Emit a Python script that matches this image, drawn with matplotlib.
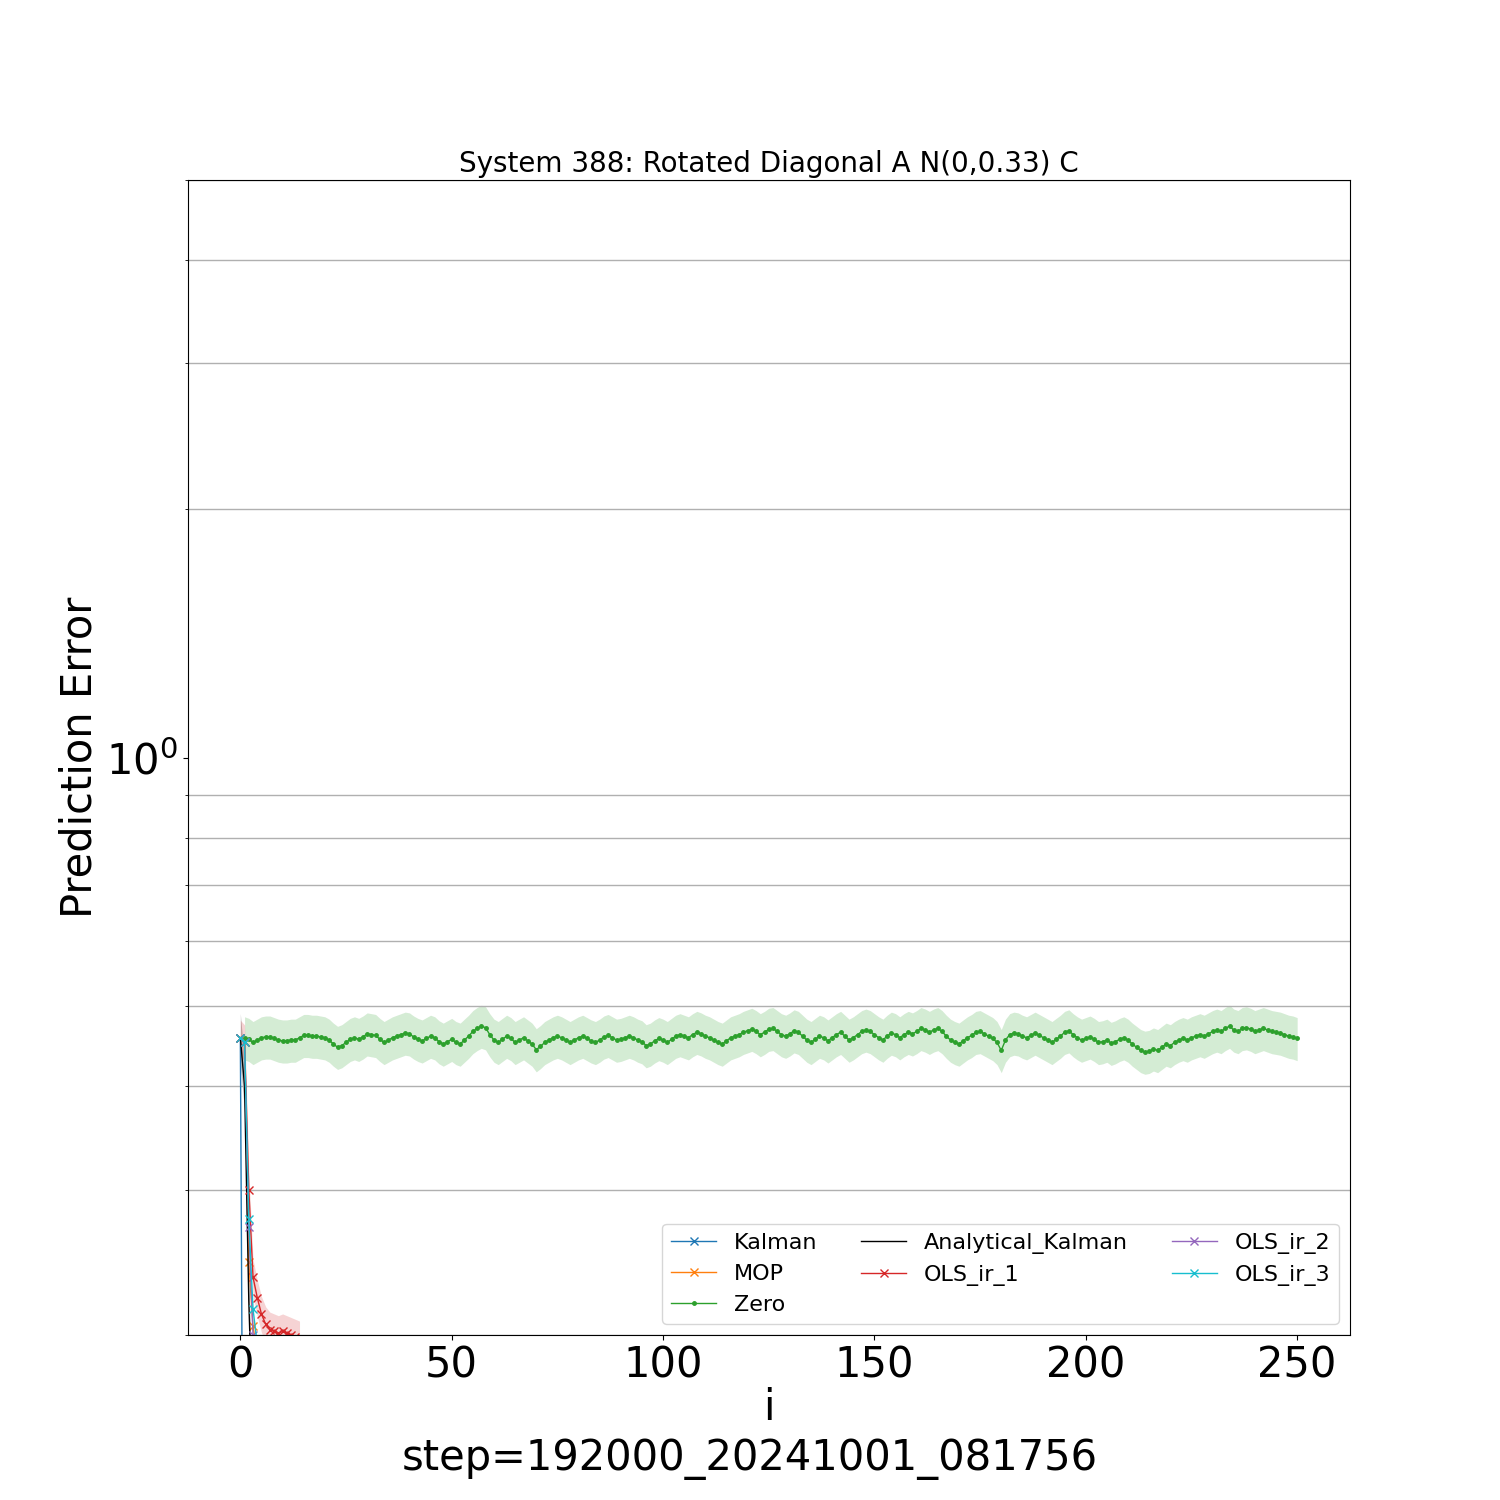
import numpy as np
import matplotlib
matplotlib.use("Agg")
import matplotlib.pyplot as plt

zero_vals = [
0.458,0.456,0.452,0.455,0.458,0.459,0.459,0.457,0.455,0.454,0.454,0.455,0.455,0.458,0.461,0.461,0.460,0.460,0.459,0.458,
0.455,0.450,0.446,0.448,0.452,0.456,0.458,0.456,0.459,0.463,0.462,0.461,0.456,0.452,0.455,0.458,0.460,0.462,0.464,0.463,
0.459,0.456,0.454,0.457,0.460,0.458,0.453,0.450,0.453,0.456,0.452,0.450,0.455,0.460,0.466,0.470,0.473,0.471,0.462,0.455,
0.452,0.456,0.460,0.457,0.452,0.455,0.458,0.454,0.450,0.443,0.447,0.452,0.455,0.458,0.460,0.458,0.455,0.452,0.455,0.458,
0.460,0.457,0.454,0.452,0.455,0.459,0.461,0.458,0.455,0.456,0.458,0.460,0.458,0.455,0.453,0.448,0.450,0.454,0.457,0.455,
0.452,0.456,0.460,0.462,0.460,0.458,0.462,0.465,0.463,0.460,0.458,0.455,0.452,0.450,0.454,0.458,0.460,0.462,0.465,0.467,
0.469,0.466,0.462,0.465,0.469,0.470,0.466,0.462,0.460,0.463,0.467,0.465,0.460,0.455,0.452,0.456,0.460,0.458,0.454,0.458,
0.462,0.465,0.460,0.455,0.458,0.462,0.466,0.468,0.466,0.462,0.458,0.455,0.460,0.464,0.462,0.458,0.462,0.465,0.463,0.466,
0.470,0.468,0.465,0.468,0.470,0.466,0.460,0.455,0.452,0.450,0.454,0.458,0.461,0.465,0.466,0.463,0.460,0.457,0.452,0.442,
0.455,0.462,0.464,0.463,0.460,0.458,0.461,0.464,0.461,0.458,0.455,0.452,0.456,0.460,0.465,0.467,0.462,0.458,0.455,0.457,
0.459,0.456,0.452,0.453,0.455,0.451,0.453,0.456,0.458,0.455,0.450,0.446,0.442,0.440,0.441,0.444,0.442,0.446,0.450,0.448,
0.452,0.455,0.457,0.455,0.458,0.460,0.462,0.460,0.463,0.466,0.468,0.466,0.470,0.473,0.468,0.466,0.470,0.471,0.469,0.466,
0.468,0.470,0.468,0.466,0.465,0.464,0.462,0.460,0.459,0.457]
zero_x = np.arange(1, 1 + len(zero_vals))

kalman_x = [0, 1]; kalman_y = [0.458, 0.05]
mop_x = [0, 1, 2, 3, 4]; mop_y = [0.458, 0.452, 0.245, 0.205, 0.19]
olsir3_x = [0, 1, 2, 3, 4]; olsir3_y = [0.458, 0.452, 0.276, 0.215, 0.195]
olsir2_x = [0, 1, 2, 3]; olsir2_y = [0.458, 0.452, 0.27, 0.2]
olsir1_x = list(range(0, 15)); olsir1_y = [0.458, 0.452, 0.30, 0.235, 0.222, 0.212, 0.206, 0.203, 0.202, 0.201, 0.202, 0.201, 0.200, 0.199, 0.198]
ak_x = [0, 1, 2, 3]; ak_y = [0.458, 0.40, 0.22, 0.15]

fig, ax = plt.subplots(figsize=(15, 15), dpi=100)
ax.set_yscale('log')
ax.set_ylim(0.2, 5.0)
ax.set_xlim(-12.5, 262.5)

zv = np.array(zero_vals)
ax.fill_between(zero_x, zv * 0.94, zv * 1.06, color='tab:green', alpha=0.2, lw=0)
ax.fill_between(ak_x, np.array(ak_y) * 0.93, np.array(ak_y) * 1.07, color='gray', alpha=0.5, lw=0)
o1 = np.array(olsir1_y)
ax.fill_between(olsir1_x, o1 * 0.95, o1 * 1.05, color='tab:red', alpha=0.2, lw=0)

ax.plot(kalman_x, kalman_y, marker='x', color='tab:blue', lw=1, ms=6, label='Kalman')
ax.plot(mop_x, mop_y, marker='x', color='tab:orange', lw=1, ms=6, label='MOP')
ax.plot(zero_x, zero_vals, marker='.', color='tab:green', lw=1, ms=5, label='Zero')
ax.plot(ak_x, ak_y, color='black', lw=1, label='Analytical_Kalman')
ax.plot(olsir1_x, olsir1_y, marker='x', color='tab:red', lw=1, ms=6, label='OLS_ir_1')
ax.plot(olsir2_x, olsir2_y, marker='x', color='tab:purple', lw=1, ms=6, label='OLS_ir_2')
ax.plot(olsir3_x, olsir3_y, marker='x', color='tab:cyan', lw=1, ms=6, label='OLS_ir_3')

ax.grid(True, which='minor', axis='y', color='#b0b0b0', lw=1)
ax.tick_params(axis='both', which='major', labelsize=30)
ax.set_title('System 388: Rotated Diagonal A N(0,0.33) C', fontsize=20)
ax.set_xlabel('i', fontsize=30, labelpad=0)
ax.set_ylabel('Prediction Error', fontsize=30)
fig.text(0.5, 0.02, 'step=192000_20241001_081756', fontsize=30, ha='center')
ax.legend(ncol=3, fontsize=16, loc='lower right')
fig.savefig('out.png')
